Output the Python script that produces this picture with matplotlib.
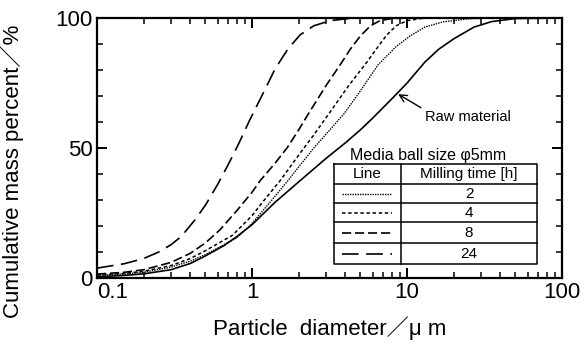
import matplotlib
matplotlib.use('Agg')
import matplotlib.pyplot as plt
from matplotlib.lines import Line2D
from matplotlib.ticker import FixedLocator, NullFormatter

plt.rcParams['font.family'] = ['Liberation Sans', 'Noto Sans CJK JP', 'DejaVu Sans']

# ---- data ----
raw_x = [0.1, 0.15, 0.2, 0.3, 0.4, 0.5, 0.66, 0.8, 1.0, 1.4, 2.0, 3.0, 4.0, 5.0, 6.0, 8.0, 10, 13, 16, 20, 27, 35, 50, 100]
raw_y = [0.5, 1.0, 1.6, 3.2, 5.6, 8.5, 12.5, 16, 20.5, 29, 37, 46, 52, 57, 61.5, 69, 75, 83, 88, 92, 96.5, 98.6, 99.8, 100]

h2_x = [0.1, 0.15, 0.2, 0.3, 0.4, 0.5, 0.8, 1.0, 1.3, 1.68, 2.5, 3.9, 5.0, 6.5, 8.5, 10.4, 13, 17, 25, 35, 100]
h2_y = [1.0, 1.5, 2.2, 4.2, 6.5, 9, 15.5, 21, 29, 37, 50, 63, 72, 82, 89, 93, 96.5, 98.5, 99.7, 100, 100]

h4_x = [0.1, 0.15, 0.2, 0.3, 0.4, 0.5, 0.75, 1.0, 1.2, 1.52, 2.04, 2.5, 3.2, 4.2, 5.5, 6.5, 7.4, 8.5, 10, 13, 100]
h4_y = [1.2, 1.8, 2.6, 4.8, 7.5, 10.5, 16.5, 24, 30, 37.5, 48, 55, 64, 74, 83, 89, 93.5, 97, 99, 100, 100]

h8_x = [0.1, 0.15, 0.2, 0.3, 0.4, 0.5, 0.62, 0.8, 1.0, 1.13, 1.4, 1.68, 2.0, 2.3, 3.0, 3.7, 4.3, 4.98, 5.8, 6.7, 8, 10, 100]
h8_y = [1.5, 2.2, 3.2, 6, 9.5, 13.5, 18.5, 26, 33, 37.5, 44, 50, 57, 63, 74, 82, 88, 93, 97, 99, 99.8, 100, 100]

h24_x = [0.1, 0.15, 0.2, 0.25, 0.3, 0.35, 0.43, 0.5, 0.6, 0.7, 0.81, 0.97, 1.2, 1.41, 1.7, 2.04, 2.5, 3.2, 4.5, 100]
h24_y = [3.8, 5.5, 7.5, 10, 12.8, 16, 22.5, 28, 36, 43.5, 51, 61, 72, 80.5, 88, 93.5, 97, 99, 100, 100]

milling_times = ['2', '4', '8', '24']
x_ticks = [0.1, 1, 10, 100]
x_tick_labels = ['0.1', '1', '10', '100']
y_ticks = [0, 50, 100]
y_tick_labels = ['0', '50', '100']

styles = {
    '2': dict(linestyle=(0, (1.0, 0.8)), linewidth=1.0, color='black'),
    '4': dict(linestyle=(0, (2.3, 1.7)), linewidth=1.1, color='black'),
    '8': dict(linestyle=(0, (5.5, 2.3)), linewidth=1.2, color='black'),
    '24': dict(linestyle=(0, (10.0, 4.5)), linewidth=1.2, color='black'),
}
series = {'2': (h2_x, h2_y), '4': (h4_x, h4_y), '8': (h8_x, h8_y), '24': (h24_x, h24_y)}

fig = plt.figure(figsize=(5.88, 3.49), dpi=100)
ax = fig.add_axes([0.165, 0.2034, 0.791, 0.745])

ax.plot(raw_x, raw_y, color='black', linewidth=1.2, linestyle='-')
for t in milling_times:
    xs, ys = series[t]
    ax.plot(xs, ys, **styles[t])

ax.set_xscale('log')
ax.set_xlim(0.1, 100)
ax.set_ylim(0, 100)

ax.xaxis.set_major_locator(FixedLocator(x_ticks))
ax.set_xticklabels(x_tick_labels)
minors = [m * d for d in [0.1, 1, 10] for m in range(2, 10)]
ax.xaxis.set_minor_locator(FixedLocator(minors))
ax.xaxis.set_minor_formatter(NullFormatter())
ax.yaxis.set_major_locator(FixedLocator(y_ticks))
ax.set_yticklabels(y_tick_labels)
ax.yaxis.set_minor_locator(FixedLocator([10, 20, 30, 40, 60, 70, 80, 90]))

ax.tick_params(which='both', direction='in', top=True, right=True, labelsize=16, pad=3)
ax.tick_params(which='major', length=7, width=1.4)
ax.tick_params(which='minor', length=4, width=1.1)
for s in ax.spines.values():
    s.set_linewidth(1.6)

ax.get_xticklabels()[0].set_horizontalalignment('left')

ax.set_xlabel('Particle  diameter／μ m', fontsize=16)
ax.xaxis.set_label_coords(0.5, -0.145)
ax.set_ylabel('Cumulative mass percent／%', fontsize=16)
ax.yaxis.set_label_coords(-0.157, 0.41)

# Raw material annotation
ax.annotate('Raw material', xy=(8.6, 71), xycoords='data',
            xytext=(0.705, 0.619), textcoords='axes fraction',
            ha='left', va='center', fontsize=10.5,
            arrowprops=dict(arrowstyle='->,head_length=0.5,head_width=0.25', lw=1.0,
                            color='black', relpos=(0, 1), shrinkA=1, shrinkB=1))

# legend table
tx0, tdiv, tx1 = 0.5097, 0.6538, 0.9462
rows = [0.4385, 0.3615, 0.2885, 0.2154, 0.1346, 0.0538]
tk = dict(transform=ax.transAxes, color='black', linewidth=1.1)
ax.add_line(Line2D([tx0, tx1, tx1, tx0, tx0], [rows[0], rows[0], rows[-1], rows[-1], rows[0]], **tk))
ax.add_line(Line2D([tdiv, tdiv], [rows[0], rows[-1]], **tk))
for r in rows[1:-1]:
    ax.add_line(Line2D([tx0, tx1], [r, r], **tk))
ax.text(0.712, 0.473, 'Media ball size φ5mm', transform=ax.transAxes, ha='center', va='center', fontsize=11.5)
ax.text((tx0 + tdiv) / 2, (rows[0] + rows[1]) / 2, 'Line', transform=ax.transAxes, ha='center', va='center', fontsize=11)
ax.text((tdiv + tx1) / 2, (rows[0] + rows[1]) / 2, 'Milling time [h]', transform=ax.transAxes, ha='center', va='center', fontsize=11)
for i, t in enumerate(milling_times):
    yc = (rows[i + 1] + rows[i + 2]) / 2
    ax.add_line(Line2D([0.527, 0.634], [yc, yc], transform=ax.transAxes, **styles[t]))
    ax.text((tdiv + tx1) / 2, yc, t, transform=ax.transAxes, ha='center', va='center', fontsize=11)

fig.savefig('out.png', dpi=100)
